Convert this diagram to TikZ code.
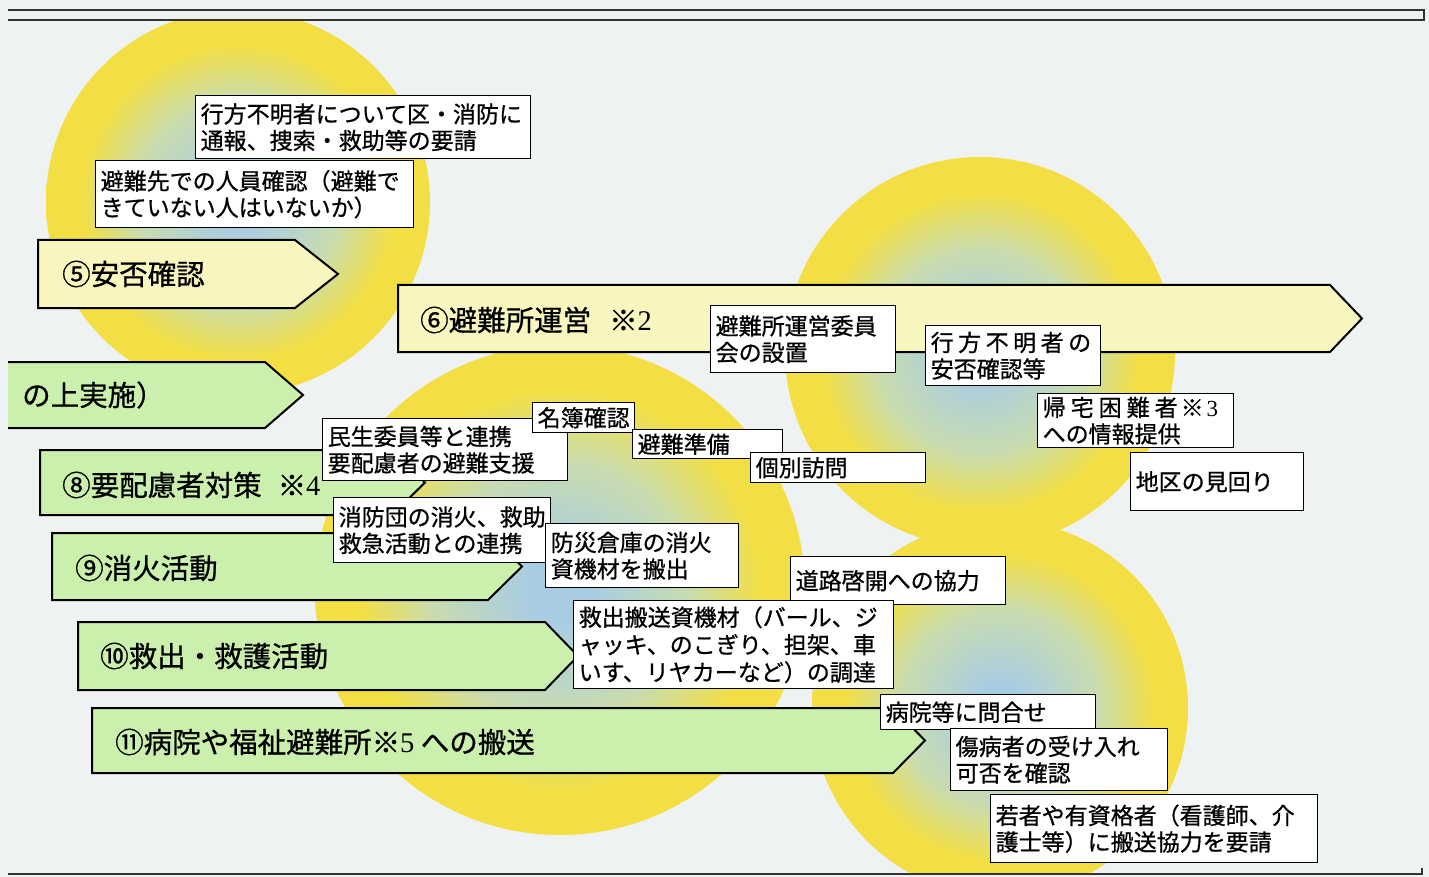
\documentclass[tikz,border=0pt]{standalone}
\usepackage{fontspec}
\setmainfont{Noto Sans CJK JP}[FakeBold=0.8]
\newfontfamily\serifnum{Liberation Serif}
\definecolor{bgc}{HTML}{EFF2F2}
\definecolor{cIn}{HTML}{A8CCE4}
\definecolor{cMid}{HTML}{C8DCB0}
\definecolor{cYel}{HTML}{F3DF44}
\definecolor{yelArrow}{HTML}{F8F5BE}
\definecolor{grnArrow}{HTML}{CBF0AE}
\pgfdeclareradialshading{sunshade}{\pgfpoint{0bp}{0bp}}{color(0bp)=(cIn); color(3bp)=(cIn); color(13bp)=(cMid); color(20.5bp)=(cYel); color(25bp)=(cYel); color(50bp)=(cYel)}
\tikzset{
  arrowshape/.style={draw=black, line width=2pt, line join=miter},
  tbox/.style={draw=black, fill=white, line width=1.4pt, anchor=north west, align=left,
    inner xsep=5pt, inner ysep=2pt, font=\fontsize{23}{26.5}\selectfont},
  alabel/.style={anchor=west, inner sep=0pt, font=\fontsize{28.5}{31}\selectfont},
}
\newcommand{\chev}[6]{\draw[arrowshape, fill=#6] (#1,#2) -- (#4,#2) -- (#5,{(#2+#3)/2}) -- (#4,#3) -- (#1,#3) -- cycle;}
\newcommand{\tb}[7]{\node[tbox, minimum width=#4pt, minimum height=#5pt, text width=#6pt] (#1) at (#2,#3) {#7};}
\begin{document}
\begin{tikzpicture}[x=1pt,y=-1pt]
\useasboundingbox (0,0) rectangle (1429,877);
\fill[bgc] (0,0) rectangle (1429,877);
% circles
\begin{scope}
\clip (0,20) rectangle (1429,872);
\shade[shading=sunshade] (238,202) circle (192);
\shade[shading=sunshade] (980,352) circle (195);
\shade[shading=sunshade] (560,590) circle (245);
\shade[shading=sunshade] (1000,708) circle (188);
\end{scope}
% frame lines
\draw[line width=1.3pt, black!80] (8,10) -- (1424,10) -- (1424,20) -- (8,20);
\draw[line width=1.3pt, black!80] (8,874) -- (1422,874) -- (1422,868);
% arrows
\chev{38}{240}{308}{295}{338}{yelArrow}
\node[alabel] (a5) at (62,274) {⑤安否確認};
\chev{398}{285}{352}{1330}{1362}{yelArrow}
\node[alabel] (a6) at (420,320) {⑥避難所運営\hspace{18pt}※{\serifnum 2}};
\fill[grnArrow] (8,362) -- (265,362) -- (303,395) -- (265,428) -- (8,428) -- cycle;
\draw[arrowshape] (8,362) -- (265,362) -- (303,395) -- (265,428) -- (8,428);
\node[alabel] (a7) at (22,395) {の上実施）};
\chev{40}{450}{515}{392}{425}{grnArrow}
\node[alabel] (a8) at (62,485) {⑧要配慮者対策\hspace{16pt}※{\serifnum 4}};
\chev{52}{533}{600}{488}{522}{grnArrow}
\node[alabel] (a9) at (75,568) {⑨消火活動};
\chev{78}{622}{690}{545}{578}{grnArrow}
\node[alabel] (a10) at (100,656) {⑩救出・救護活動};
\chev{92}{708}{773}{893}{925}{grnArrow}
\node[alabel] (a11) at (115,742) {⑪病院や福祉避難所※{\serifnum 5} への搬送};
% boxes
\tb{b1}{195}{95}{335}{63}{325}{行方不明者について区・消防に\\通報、捜索・救助等の要請}
\tb{b2}{95}{160}{318}{67}{308}{避難先での人員確認（避難で\\きていない人はいないか）}
\tb{b3}{710}{305}{185}{67}{175}{避難所運営委員\\会の設置}
\tb{b4}{925}{325}{175}{60}{165}{行\kern4.5pt 方\kern4.5pt 不\kern4.5pt 明\kern4.5pt 者\kern4.5pt の\\安否確認等}
\tb{b5}{1037}{393}{196}{54}{186}{帰\kern5pt 宅\kern5pt 困\kern5pt 難\kern5pt 者\kern3pt ※{\serifnum\kern3pt 3}\\への情報提供}
\tb{b6}{1130}{452}{173}{58}{163}{地区の見回り}
\tb{b10}{322}{418}{245}{62}{235}{民生委員等と連携\\要配慮者の避難支援}
\tb{b7}{532}{402}{101}{30}{92}{名簿確認}
\tb{b8}{632}{429}{150}{29}{140}{避難準備}
\tb{b9}{750}{452}{175}{30}{165}{個別訪問}
\tb{b11}{333}{497}{217}{65}{207}{消防団の消火、救助\\救急活動との連携}
\tb{b12}{545}{523}{193}{64}{183}{防災倉庫の消火\\資機材を搬出}
\tb{b13}{790}{556}{215}{48}{205}{道路啓開への協力}
\node[tbox, minimum width=320pt, minimum height=88pt, text width=310pt, font=\fontsize{23}{27.5}\selectfont] (b14) at (573,600) {救出搬送資機材（バール、ジ\\ャッキ、のこぎり、担架、車\\いす、リヤカーなど）の調達};
\tb{b15}{880}{694}{215}{35}{205}{病院等に問合せ}
\tb{b16}{950}{728}{217}{62}{207}{傷病者の受け入れ\\可否を確認}
\tb{b17}{990}{794}{327}{68}{317}{若者や有資格者（看護師、介\\護士等）に搬送協力を要請}
\end{tikzpicture}
\end{document}
